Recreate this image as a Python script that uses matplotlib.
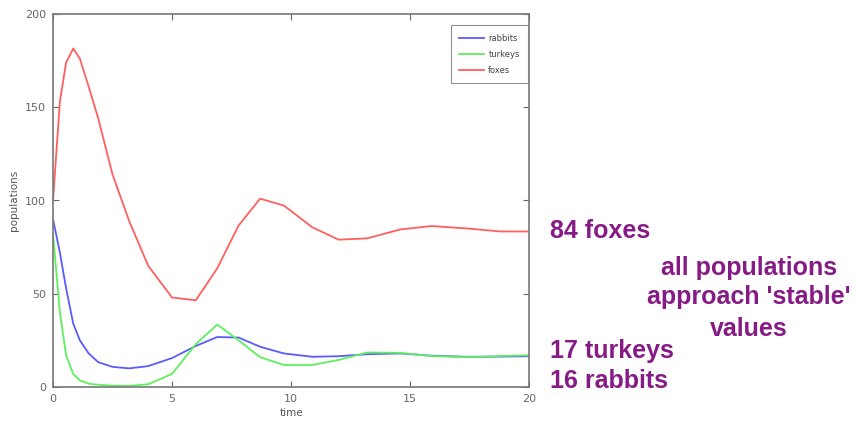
import matplotlib
matplotlib.use("Agg")
import matplotlib.pyplot as plt

time = [0, 0.29, 0.55, 0.85, 1.13, 1.5, 1.9, 2.5, 3.2, 4.0, 5.0, 6.0, 6.9,
        7.8, 8.7, 9.7, 10.9, 12.0, 13.2, 14.6, 15.9, 17.4, 18.8, 20.0]
rabbits = [90, 72, 53, 34, 25, 18, 13.3, 10.8, 10, 11.2, 15.5, 22, 26.8,
           26.5, 21.6, 18, 16.2, 16.5, 17.6, 18, 16.8, 16.2, 16.3, 16.5]
turkeys = [82, 40, 17, 7, 3.5, 1.8, 1.2, 0.7, 0.6, 1.5, 7, 23, 33.5,
           25, 16, 11.8, 11.8, 14.5, 18.5, 18.3, 16.6, 16, 16.6, 17]
foxes = [100, 153, 174, 181.5, 176, 161, 144, 114, 89, 65, 48, 46.5, 63.6,
         86.6, 101, 97.3, 85.6, 79, 79.7, 84.5, 86.3, 85, 83.4, 83.4]

series_labels = ["rabbits", "turkeys", "foxes"]
xticks = [0, 5, 10, 15, 20]
yticks = [0, 50, 100, 150, 200]

W, H = 856, 423
fig = plt.figure(figsize=(W / 100, H / 100), dpi=100)
l, r, t, b = 53, 529, 14, 387
ax = fig.add_axes([l / W, (H - b) / H, (r - l) / W, (b - t) / H])

ax.plot(time, rabbits, color="#5a5aff", lw=1.3, label=series_labels[0])
ax.plot(time, turkeys, color="#5ef05e", lw=1.3, label=series_labels[1])
ax.plot(time, foxes, color="#ff5f5f", lw=1.3, label=series_labels[2])

ax.set_xlim(0, 20)
ax.set_ylim(0, 200)
ax.set_xticks(xticks)
ax.set_yticks(yticks)
ax.tick_params(direction="in", length=4, width=0.8, colors="#666666",
               labelsize=8, top=True, right=True, pad=5)
for s in ax.spines.values():
    s.set_color("#777777")
    s.set_linewidth(1.2)
ax.set_xlabel("time", fontsize=7.5, color="#555555", labelpad=3)
ax.set_ylabel("populations", fontsize=7.5, color="#555555", labelpad=4)

leg = ax.legend(loc="upper right", bbox_to_anchor=(0.998, 0.97),
                borderaxespad=0, fontsize=6, handlelength=3.0,
                labelspacing=0.85, frameon=True, fancybox=False,
                handletextpad=0.5, borderpad=1.0)
leg.get_frame().set_edgecolor("#777777")
leg.get_frame().set_linewidth(0.8)
for txt in leg.get_texts():
    txt.set_color("#444444")

purple = "#861b86"
tkw = dict(color=purple, fontsize=18, fontweight="bold",
           family=["Liberation Sans", "DejaVu Sans"], va="baseline")
fig.text(550 / W, 1 - 238 / H, "84 foxes", ha="left", **tkw)
fig.text(749 / W, 1 - 275 / H, "all populations", ha="center", **tkw)
fig.text(749 / W, 1 - 304 / H, "approach 'stable'", ha="center", **tkw)
fig.text(749 / W, 1 - 336 / H, "values", ha="center", **tkw)
fig.text(550 / W, 1 - 358 / H, "17 turkeys", ha="left", **tkw)
fig.text(550 / W, 1 - 388 / H, "16 rabbits", ha="left", **tkw)

fig.savefig("out.png", dpi=100)
